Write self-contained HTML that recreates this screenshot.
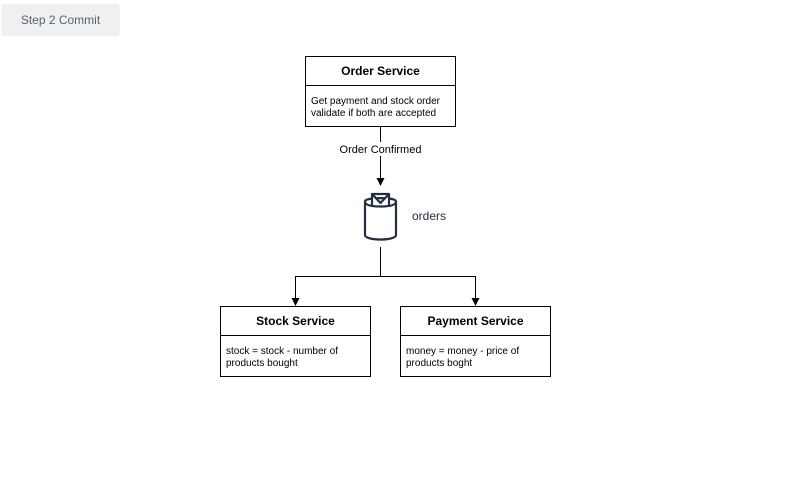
<!DOCTYPE html>
<html><head><style>body{margin:0;background:#fff}svg{display:block}</style></head><body>
<svg width="810" height="503" xmlns="http://www.w3.org/2000/svg" font-family="Liberation Sans, sans-serif">
<rect x="1" y="4" width="119" height="32" rx="4" fill="#eef0f2"/>
<text x="60.5" y="24" font-size="12" fill="#5a6270" text-anchor="middle">Step 2 Commit</text>
<g stroke="#000" fill="#fff" stroke-width="1">
<rect x="305.5" y="56.5" width="150" height="70"/><line x1="305.5" y1="85.5" x2="455.5" y2="85.5"/>
<rect x="220.5" y="306.5" width="150" height="70"/><line x1="220.5" y1="335.5" x2="370.5" y2="335.5"/>
<rect x="400.5" y="306.5" width="150" height="70"/><line x1="400.5" y1="335.5" x2="550.5" y2="335.5"/>
<path d="M380.5 126.5V180" fill="none"/>
<path d="M380.5 247V276.5H295.5V299M380.5 276.5H475.5V299" fill="none"/>
</g>
<g fill="#000">
<path d="M376.5 178L380.5 186L384.5 178Z"/>
<path d="M291.5 298L295.5 306L299.5 298Z"/>
<path d="M471.5 298L475.5 306L479.5 298Z"/>
</g>
<rect x="338" y="142" width="86" height="14" fill="#fff"/>
<text x="380.5" y="153" font-size="11" text-anchor="middle">Order Confirmed</text>
<g fill="none" stroke="#232f3e" stroke-width="2.2" stroke-linejoin="round">
<path d="M365 201.5C365 197 396 197 396 201.5V235C396 241 365 241 365 235Z"/>
<path d="M365 201.5C365 205 371 206.5 380.5 206.5C390 206.5 396 205 396 201.5"/>
<path d="M372 205V194H389V205M372 194L380.5 203L389 194" fill="#fff"/>
</g>
<text x="412" y="220" font-size="12" fill="#232f3e">orders</text>
<g font-size="12" font-weight="bold" text-anchor="middle">
<text x="380.5" y="75">Order Service</text>
<text x="295.5" y="325">Stock Service</text>
<text x="475.5" y="325">Payment Service</text>
</g>
<g font-size="10">
<text x="311" y="104">Get payment and stock order</text>
<text x="311" y="116">validate if both are accepted</text>
<text x="226" y="354">stock = stock - number of</text>
<text x="226" y="366">products bought</text>
<text x="406" y="354">money = money - price of</text>
<text x="406" y="366">products boght</text>
</g>
</svg>
</body></html>
